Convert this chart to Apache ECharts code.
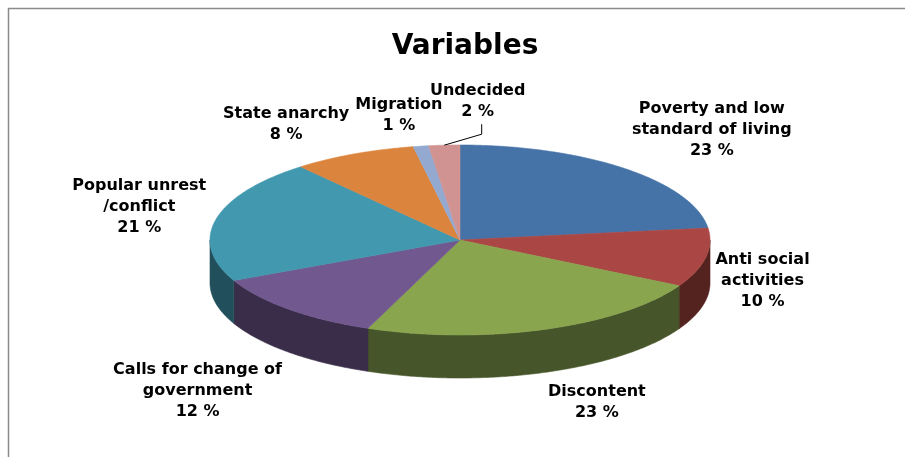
<!DOCTYPE html>
<html lang="en">
<head>
<meta charset="UTF-8">
<title>Variables</title>
<script src="https://cdn.jsdelivr.net/npm/echarts/dist/echarts.min.js"></script>
<style>
  html, body { margin: 0; padding: 0; background: #fff; }
  #pie { width: 905px; height: 457px; }
</style>
</head>
<body>
<div id="pie"></div>
<script>
// data, clockwise from 12 o'clock
var categories = ['Poverty and low\nstandard of living', 'Anti social\nactivities', 'Discontent',
  'Calls for change of\ngovernment', 'Popular unrest\n/conflict', 'State anarchy', 'Migration', 'Undecided'];
var values = [23, 10, 23, 12, 21, 8, 1, 2];

// Excel 2007 palette: top face and darker side face
var topColors = ['#4572A7', '#AA4643', '#89A54E', '#71588F', '#4198AF', '#DB843D', '#93A9CF', '#D19392'];
var sideColors = ['#233954', '#55231F', '#46552A', '#3A2D4A', '#21505C', '#6E421E', '#4A5568', '#694A49'];

// tilted pie geometry
var cx = 460, cy = 240, rx = 250, ry = 95, depth = 43;
var labelFont = 'bold 16px "DejaVu Sans"';
var lineH = 21, gap = 10;
// Excel pushed the last label up, with a leader line
var labelShift = [[0, 0], [0, 0], [0, 0], [0, 0], [0, 0], [0, 0], [0, 0], [43, -13]];
var leader = [false, false, false, false, false, false, false, true];

var total = values.reduce(function (s, v) { return s + v }, 0);
var starts = [], acc = 0;
values.forEach(function (v) { starts.push(acc / total); acc += v; });

var ctx = document.createElement('canvas').getContext('2d');
ctx.font = labelFont;

function pt(a, dy) {
  return [cx + rx * Math.sin(a), cy - ry * Math.cos(a) + (dy || 0)];
}
function arc(a0, a1, dy) {
  var pts = [], n = Math.max(2, Math.ceil((a1 - a0) / 0.01));
  for (var k = 0; k <= n; k++) pts.push(pt(a0 + (a1 - a0) * k / n, dy));
  return pts;
}
function clamp(v, lo, hi) { return Math.max(lo, Math.min(hi, v)); }

var chart = echarts.init(document.getElementById('pie'));

var option = {
  animation: false,
  title: {
    text: 'Variables',
    left: 460,
    top: 28,
    textAlign: 'center',
    textStyle: { fontFamily: 'DejaVu Sans', fontWeight: 'bold', fontSize: 28, color: '#000' }
  },
  graphic: [{
    type: 'rect',
    shape: { x: 8.5, y: 8.5, width: 1000, height: 1000 },
    style: { fill: null, stroke: '#8a8a8a', lineWidth: 1.5 },
    silent: true
  }],
  series: [{
    type: 'custom',
    coordinateSystem: 'none',
    data: values.map(function (v, i) { return [i, v]; }),
    renderItem: function (params, api) {
      var i = api.value(0);
      var a0 = starts[i] * 2 * Math.PI;
      var a1 = (starts[i] + api.value(1) / total) * 2 * Math.PI;
      var children = [];

      // side wall, only the front half is visible
      var s0 = Math.max(a0, Math.PI / 2), s1 = Math.min(a1, 1.5 * Math.PI);
      if (s1 > s0) {
        var up = arc(s0, s1, 0), down = arc(s0, s1, depth).reverse();
        children.push({
          type: 'polygon',
          shape: { points: up.concat(down) },
          style: { fill: sideColors[i], stroke: sideColors[i], lineWidth: 0.6 }
        });
      }
      // top face
      children.push({
        type: 'polygon',
        z2: 2,
        shape: { points: [[cx, cy]].concat(arc(a0, a1, 0)) },
        style: { fill: topColors[i], stroke: topColors[i], lineWidth: 0.6 }
      });

      // outside-end label
      var text = categories[i] + '\n' + values[i] + ' %';
      var lines = text.split('\n');
      var w = Math.max.apply(null, lines.map(function (l) { return ctx.measureText(l).width; }));
      var h = lines.length * lineH;
      var mid = (a0 + a1) / 2, s = Math.sin(mid), c = Math.cos(mid);
      var ax = cx + (rx + gap) * s;
      var ay = cy - (ry + gap) * c + depth * clamp(-1.5 * c, 0, 1);
      var lx = ax + clamp(3 * s, -1, 1) * w / 2 + labelShift[i][0];
      var ly = ay + clamp(-1.5 * c, -1, 1) * h / 2 + labelShift[i][1];
      children.push({
        type: 'text',
        z2: 10,
        x: lx,
        y: ly,
        style: {
          text: text, font: labelFont, fill: '#000',
          align: 'center', verticalAlign: 'middle', lineHeight: lineH
        }
      });
      if (leader[i]) {
        children.push({
          type: 'polyline',
          z2: 9,
          shape: { points: [[lx + 4, ly + h / 2 + 2], [lx + 4, ly + h / 2 + 12], pt(mid, 0)] },
          style: { stroke: '#000', lineWidth: 1, fill: null }
        });
      }
      return { type: 'group', children: children };
    }
  }]
};
chart.setOption(option);
</script>
</body>
</html>
